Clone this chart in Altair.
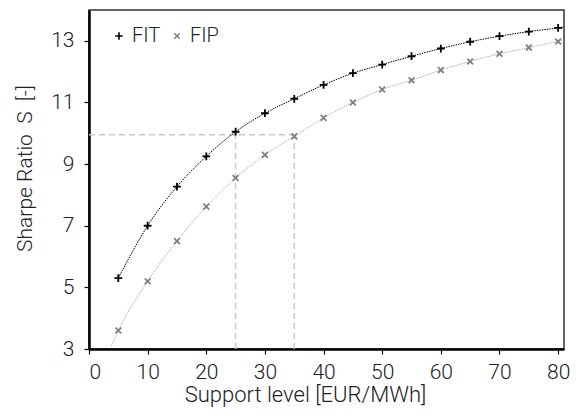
import altair as alt
import pandas as pd

support = [5, 10, 15, 20, 25, 30, 35, 40, 45, 50, 55, 60, 65, 70, 75, 80]
fit_vals = [5.3, 7.0, 8.27, 9.25, 10.05, 10.65, 11.12, 11.57, 11.95, 12.23, 12.5, 12.75, 12.97, 13.15, 13.3, 13.42]
fip_vals = [3.6, 5.2, 6.5, 7.62, 8.55, 9.3, 9.9, 10.5, 11.0, 11.42, 11.72, 12.05, 12.33, 12.58, 12.78, 12.98]

# fitted-curve traces (including their visible ends)
fit_line_x = [5, 10, 15, 20, 25, 30, 35, 40, 45, 50, 55, 60, 65, 70, 75, 80, 81]
fit_line_y = [5.3, 7.0, 8.27, 9.25, 10.05, 10.65, 11.12, 11.57, 11.95, 12.23, 12.5, 12.75, 12.97, 13.15, 13.3, 13.42, 13.45]
fip_line_x = [3.8, 5, 10, 15, 20, 25, 30, 35, 40, 45, 50, 55, 60, 65, 70, 75, 80, 81]
fip_line_y = [3.1, 3.6, 5.2, 6.5, 7.62, 8.55, 9.3, 9.9, 10.5, 11.0, 11.42, 11.72, 12.05, 12.33, 12.58, 12.78, 12.98, 13.02]

ref_x = [25, 35]
ref_y = [10.05, 9.95]
ref_h_y = 9.95
ref_h_x2 = 35

FONT = "Roboto"
FW = 300
FS = 21
TXT = "#222222"

pts = pd.DataFrame({
    "x": support * 2,
    "y": fit_vals + fip_vals,
    "series": ["FIT"] * len(support) + ["FIP"] * len(support),
})
fit_line = pd.DataFrame({"x": fit_line_x, "y": fit_line_y})
fip_line = pd.DataFrame({"x": fip_line_x, "y": fip_line_y})
vref = pd.DataFrame({"x": ref_x, "y": [3, 3], "y2": ref_y})
href = pd.DataFrame({"x": [0], "x2": [ref_h_x2], "y": [ref_h_y]})

xs = alt.Scale(domain=[0, 81], nice=False, zero=False)
ys = alt.Scale(domain=[3, 14], nice=False, zero=False)

xax = alt.Axis(values=[0, 10, 20, 30, 40, 50, 60, 70, 80], title="Support level [EUR/MWh]",
               grid=False, tickSize=5, labelPadding=7, titlePadding=2,
               titleX=216, titleAlign="center", titleFontSize=22)
yax = alt.Axis(values=[3, 5, 7, 9, 11, 13], title="Sharpe Ratio\u00a0\u00a0S\u00a0\u00a0[-]",
               grid=False, tickSize=5, labelPadding=10,
               titleX=-64, titleY=158, titleAlign="center", titleBaseline="middle", titleAngle=-90)

dash_color = "#c8c8c8"
vlines = alt.Chart(vref).mark_rule(color=dash_color, strokeDash=[6, 4], strokeWidth=1.5).encode(
    x=alt.X("x:Q", scale=xs, axis=xax), y=alt.Y("y:Q", scale=ys, axis=yax), y2="y2:Q")
hline = alt.Chart(href).mark_rule(color=dash_color, strokeDash=[6, 4], strokeWidth=1.5).encode(
    x=alt.X("x:Q", scale=xs), x2="x2:Q", y=alt.Y("y:Q", scale=ys))

l_fit = alt.Chart(fit_line).mark_line(color="#000000", strokeWidth=1, strokeDash=[1.5, 1],
                                      interpolate="monotone").encode(
    x=alt.X("x:Q", scale=xs), y=alt.Y("y:Q", scale=ys))
l_fip = alt.Chart(fip_line).mark_line(color="#b0b0b0", strokeWidth=1, strokeDash=[1.5, 1],
                                      interpolate="monotone").encode(
    x=alt.X("x:Q", scale=xs), y=alt.Y("y:Q", scale=ys))

plus_path = "M0,-1L0,1M-1,0L1,0"
x_path = "M-0.75,-0.75L0.75,0.75M-0.75,0.75L0.75,-0.75"

leg = alt.Legend(title=None, orient="none", legendX=20, legendY=16,
                 direction="horizontal", labelFontSize=20, labelFont=FONT, labelFontWeight=FW,
                 labelColor=TXT, symbolSize=55, symbolStrokeWidth=1.6, columnPadding=6,
                 labelOffset=3, symbolFillColor="transparent")

points = alt.Chart(pts).mark_point(filled=False, strokeWidth=1.8, size=60, opacity=1).encode(
    x=alt.X("x:Q", scale=xs),
    y=alt.Y("y:Q", scale=ys),
    shape=alt.Shape("series:N", scale=alt.Scale(domain=["FIT", "FIP"], range=[plus_path, x_path]),
                    legend=leg),
    color=alt.Color("series:N", scale=alt.Scale(domain=["FIT", "FIP"], range=["#000000", "#808080"]),
                    legend=leg),
)

chart = alt.layer(vlines, hline, l_fip, l_fit, points).properties(
    width=475, height=339,
    autosize=alt.AutoSizeParams(type="none"),
    padding={"left": 81, "top": 2, "right": 8, "bottom": 59},
).configure_view(stroke="#333333", strokeWidth=1.5).configure_axis(
    domainColor="#000000", domainWidth=2.5, tickColor="#000000", tickWidth=1.2,
    labelFont=FONT, titleFont=FONT, labelFontSize=FS, titleFontSize=FS,
    labelFontWeight=FW, titleFontWeight=FW,
    labelColor=TXT, titleColor=TXT,
)

chart.save("out.html", embed_options={"renderer": "svg", "actions": False})
